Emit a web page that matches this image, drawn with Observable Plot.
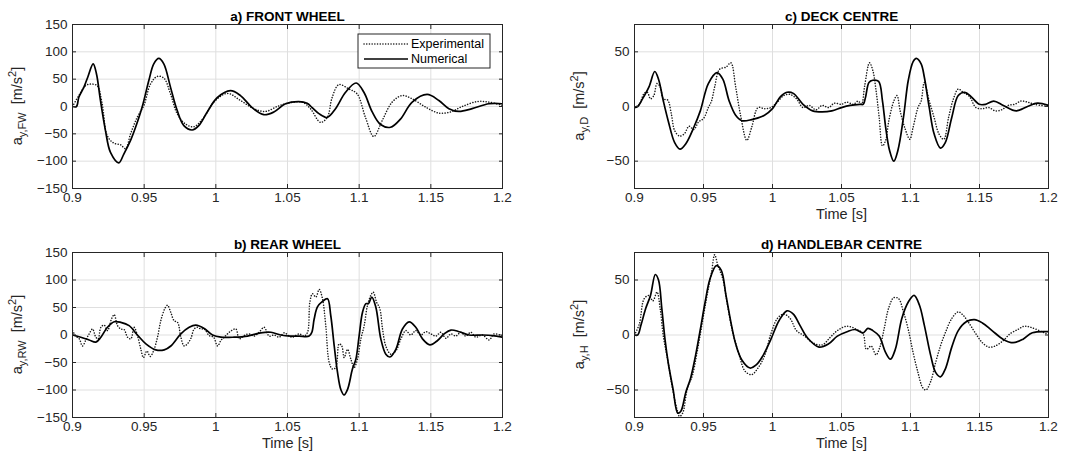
<!DOCTYPE html>
<html>
<head>
<meta charset="utf-8">
<script src="https://cdn.jsdelivr.net/npm/d3@7"></script>
<script src="https://cdn.jsdelivr.net/npm/@observablehq/plot@0.6"></script>
<style>
  body { margin: 0; background: #fff; }
  #chart { position: relative; width: 1083px; height: 460px; font-family: "Liberation Sans", Arial, sans-serif; }
  #chart svg { position: absolute; overflow: visible; }
</style>
</head>
<body>
<div id="chart"></div>
<script>
// Axis ticks
const timeTicks = [0.9, 0.95, 1, 1.05, 1.1, 1.15, 1.2];
const wheelTicks = [-150, -100, -50, 0, 50, 100, 150];
const bodyTicks = [-50, 0, 50];
const seriesNames = ["Experimental", "Numerical"];

// Lateral acceleration [m/s^2] vs time [s]: a) front wheel
const frontExp = [[0.9,0],[0.9044,20],[0.9091,38],[0.9126,41],[0.9172,38],[0.9207,5],[0.9242,-53],[0.9288,-67],[0.9335,-70],[0.937,-77],[0.9405,-50],[0.9451,-20],[0.9498,2],[0.9544,41],[0.9591,55],[0.9637,52],[0.9684,23],[0.973,-13],[0.9788,-32],[0.9847,-37],[0.9916,-20],[0.9986,8],[1.0079,24],[1.0172,11],[1.0265,-4],[1.0347,-9],[1.0428,0],[1.0486,5],[1.0602,8],[1.066,-4],[1.073,-29],[1.0777,-20],[1.0812,17],[1.0858,40],[1.0928,32],[1.0986,23],[1.1044,-20],[1.1102,-55],[1.116,-26],[1.123,8],[1.13,20],[1.137,14],[1.1463,-1],[1.1556,-12],[1.1637,-10],[1.1719,0],[1.1823,9],[1.1905,8],[1.2,2]];
const frontNum = [[0.9,0],[0.9028,0],[0.9044,17],[0.9079,35],[0.9107,54],[0.9144,78],[0.9167,60],[0.9195,11],[0.923,-44],[0.9265,-84],[0.9323,-103],[0.9358,-87],[0.9405,-62],[0.944,-38],[0.9486,-1],[0.9533,48],[0.9567,78],[0.9602,88],[0.9637,78],[0.9684,35],[0.973,-7],[0.9777,-35],[0.9835,-43],[0.9881,-35],[0.994,-10],[1.0009,16],[1.0102,29],[1.0172,20],[1.0253,-2],[1.0335,-15],[1.0405,-10],[1.0486,5],[1.0579,9],[1.0637,6],[1.0672,-2],[1.0719,-13],[1.0777,-20],[1.0835,-4],[1.0905,26],[1.0979,43],[1.1033,26],[1.1091,-10],[1.1149,-33],[1.1219,-38],[1.1288,-23],[1.137,8],[1.1474,22],[1.1556,11],[1.1626,-4],[1.1695,-9],[1.1788,-4],[1.1905,5],[1.2,5]];

// b) rear wheel
const rearExp = [[0.9,8],[0.9023,-2],[0.9047,-7],[0.907,-20],[0.9093,-9],[0.9116,2],[0.914,11],[0.9163,-4],[0.9179,-7],[0.9198,14],[0.9221,18],[0.9244,8],[0.9272,29],[0.9291,37],[0.9314,17],[0.9337,11],[0.936,10],[0.9384,-4],[0.9407,-7],[0.943,14],[0.9453,-1],[0.9477,-26],[0.9495,-41],[0.9519,-29],[0.9542,-39],[0.9565,-29],[0.9593,-4],[0.9616,26],[0.9644,48],[0.9663,54],[0.9686,41],[0.9709,26],[0.9733,23],[0.9756,-4],[0.9779,-20],[0.9802,-16],[0.9826,-6],[0.9849,11],[0.9872,14],[0.9895,11],[0.9919,11],[0.9953,-1],[0.9984,-4],[1.0012,-20],[1.0035,-10],[1.0058,-4],[1.0081,2],[1.0109,8],[1.014,11],[1.0163,-7],[1.0198,-1],[1.0233,2],[1.0267,-2],[1.0302,5],[1.0337,14],[1.0372,-2],[1.0407,0],[1.0442,-4],[1.0477,4],[1.0512,-2],[1.0535,-4],[1.0581,2],[1.0616,-2],[1.064,5],[1.0656,60],[1.0674,75],[1.0698,69],[1.0721,83],[1.0744,66],[1.0767,17],[1.0791,-50],[1.0814,-62],[1.0837,-59],[1.086,-16],[1.0879,-20],[1.0895,-41],[1.0919,-26],[1.0942,-44],[1.0965,-59],[1.0988,-44],[1.1012,-7],[1.1035,17],[1.1058,54],[1.1081,72],[1.1098,78],[1.1121,60],[1.1144,48],[1.1163,11],[1.1186,-20],[1.1221,-35],[1.1256,-29],[1.1291,-7],[1.1326,8],[1.136,0],[1.1395,8],[1.143,0],[1.1465,6],[1.15,2],[1.1535,-2],[1.157,5],[1.1605,-6],[1.164,2],[1.1674,-2],[1.1709,5],[1.1744,-2],[1.1779,5],[1.1814,-4],[1.186,0],[1.1907,-9],[1.1942,2],[1.2,-2]];
const rearNum = [[0.9,0],[0.9058,-4],[0.9116,-9],[0.9163,-13],[0.9198,-4],[0.9244,14],[0.9291,24],[0.9337,23],[0.9395,17],[0.9453,0],[0.9512,-16],[0.9581,-27],[0.964,-27],[0.9686,-20],[0.9756,2],[0.9814,14],[0.986,18],[0.9919,12],[0.9977,0],[1.0035,-4],[1.0128,-4],[1.0221,-2],[1.0314,4],[1.0384,5],[1.0453,0],[1.0523,-2],[1.0581,-2],[1.0651,-2],[1.067,5],[1.0686,29],[1.0709,51],[1.0744,61],[1.0779,66],[1.0802,35],[1.0826,-20],[1.0849,-68],[1.0872,-99],[1.0895,-109],[1.0919,-99],[1.0953,-62],[1.0977,-44],[1.1,-1],[1.1023,41],[1.1047,57],[1.1065,57],[1.1088,69],[1.1116,51],[1.1151,-7],[1.1186,-35],[1.1214,-40],[1.1256,-26],[1.1302,11],[1.1349,24],[1.1395,14],[1.1442,-7],[1.1493,-18],[1.1547,-10],[1.1593,2],[1.164,9],[1.1698,6],[1.1767,0],[1.186,0],[1.193,-1],[1.2,-4]];

// c) deck centre
const deckExp = [[0.9,-1],[0.9035,2],[0.907,12],[0.9093,13],[0.9116,7],[0.914,10],[0.9163,21],[0.9186,18],[0.9209,7],[0.924,6],[0.9267,-7],[0.9291,-22],[0.9326,-27],[0.9361,-25],[0.9395,-18],[0.943,-21],[0.9465,-14],[0.95,-11],[0.9535,-1],[0.9558,5],[0.9581,18],[0.9616,34],[0.9663,36],[0.9698,40],[0.9733,18],[0.9767,-7],[0.9814,-31],[0.9849,-19],[0.9895,-1],[0.9942,-2],[0.9988,-1],[1.0035,4],[1.0081,10],[1.0128,11],[1.0174,7],[1.0221,-1],[1.0267,1],[1.0314,-3],[1.036,1],[1.0407,-1],[1.0447,3],[1.05,2],[1.054,4],[1.0586,2],[1.0621,5],[1.0645,2],[1.0668,19],[1.0703,40],[1.0727,33],[1.075,15],[1.0773,-10],[1.0797,-36],[1.082,-31],[1.0843,-13],[1.0879,5],[1.0902,10],[1.0925,-4],[1.096,-20],[1.0995,-30],[1.1019,-19],[1.1054,-1],[1.1077,5],[1.11,22],[1.1136,5],[1.1171,-10],[1.1206,-25],[1.1241,-30],[1.1276,-10],[1.1311,7],[1.1346,16],[1.1381,13],[1.1428,9],[1.1474,-1],[1.1521,-2],[1.1568,-1],[1.1614,-4],[1.1661,-3],[1.1708,1],[1.1755,2],[1.1801,5],[1.1848,4],[1.19,2],[1.2,0]];
const deckNum = [[0.9,-1],[0.9023,0],[0.9058,7],[0.9105,18],[0.9147,32],[0.9174,25],[0.9209,5],[0.9244,-13],[0.9291,-33],[0.933,-39],[0.9372,-34],[0.943,-19],[0.9477,-4],[0.9535,21],[0.9598,31],[0.964,25],[0.9686,5],[0.9733,-8],[0.9779,-13],[0.9849,-12],[0.9942,-8],[1.0,-2],[1.0058,9],[1.0105,13],[1.0151,12],[1.0221,2],[1.0291,-4],[1.036,-5],[1.043,-4],[1.05,-1],[1.0563,1],[1.0633,2],[1.0657,2],[1.0675,9],[1.0699,22],[1.0727,24],[1.0769,23],[1.0797,5],[1.082,-19],[1.0848,-40],[1.0879,-50],[1.0909,-40],[1.0949,-10],[1.0984,24],[1.1019,41],[1.1042,44],[1.1077,39],[1.11,27],[1.1136,-1],[1.1171,-25],[1.1217,-38],[1.1252,-33],[1.1299,-10],[1.1346,10],[1.1393,13],[1.1439,9],[1.1498,2],[1.1544,2],[1.1603,5],[1.1673,1],[1.1766,-4],[1.1848,0],[1.192,3],[1.2,1]];

// d) handlebar centre
const handleExp = [[0.9,0],[0.9035,10],[0.907,33],[0.9105,36],[0.9133,31],[0.9163,39],[0.9186,24],[0.9209,-1],[0.9244,-25],[0.9279,-51],[0.9309,-68],[0.9326,-74],[0.9349,-71],[0.9384,-48],[0.9419,-37],[0.9453,-16],[0.9488,9],[0.9523,34],[0.9558,57],[0.9581,73],[0.9605,63],[0.964,51],[0.9674,27],[0.9709,4],[0.9756,-17],[0.9802,-33],[0.9849,-36],[0.9895,-30],[0.9942,-19],[0.9988,1],[1.0035,15],[1.0081,19],[1.0128,15],[1.0174,4],[1.0233,-1],[1.0291,-7],[1.036,-9],[1.0419,-2],[1.047,4],[1.054,8],[1.061,5],[1.0657,1],[1.068,-13],[1.0715,-10],[1.075,-18],[1.0778,-11],[1.0808,5],[1.0843,25],[1.0879,34],[1.0914,33],[1.0949,21],[1.0984,5],[1.1019,-16],[1.1054,-34],[1.1089,-48],[1.1112,-50],[1.1147,-42],[1.1182,-25],[1.1217,-10],[1.1252,2],[1.1299,15],[1.1346,21],[1.1381,18],[1.1428,10],[1.1474,1],[1.1521,-7],[1.1568,-11],[1.1614,-10],[1.1673,-5],[1.172,1],[1.1778,5],[1.1825,8],[1.1871,7],[1.195,3],[1.2,0]];
const handleNum = [[0.9,0],[0.9023,0],[0.9047,9],[0.9081,24],[0.9116,36],[0.9151,55],[0.9174,50],[0.9198,24],[0.9221,-4],[0.9244,-25],[0.9279,-49],[0.9314,-71],[0.9337,-69],[0.9372,-52],[0.9407,-39],[0.9442,-19],[0.9477,5],[0.9512,30],[0.9547,51],[0.9593,63],[0.9628,59],[0.9663,36],[0.9698,12],[0.9733,-8],[0.9779,-23],[0.9837,-30],[0.9884,-27],[0.993,-19],[0.9988,-4],[1.0047,13],[1.0105,22],[1.0151,19],[1.0198,9],[1.0256,-3],[1.0337,-11],[1.0407,-8],[1.047,-1],[1.054,3],[1.0598,5],[1.0657,2],[1.0691,6],[1.0727,4],[1.0773,-1],[1.082,-16],[1.0855,-22],[1.089,-13],[1.0937,15],[1.0984,30],[1.1026,36],[1.1065,27],[1.11,9],[1.1147,-19],[1.1182,-34],[1.1217,-38],[1.1252,-31],[1.1299,-11],[1.1346,4],[1.1404,12],[1.1463,14],[1.1521,11],[1.1591,4],[1.1673,-4],[1.1743,-7],[1.1813,-4],[1.1883,2],[1.2,3]];

const FONT = '"Liberation Sans", Arial, Helvetica, sans-serif';
const AXIS = "#262626";
const GRID = "#dfdfdf";
const INK = "#000";
// Dotted experimental trace: round caps on near-zero dashes give separate dots
const expStyle = {stroke: "#1a1a1a", strokeWidth: 1.5, strokeDasharray: "0.1,2.6", strokeLinecap: "round"};
const numStyle = {stroke: INK, strokeWidth: 1.7};

const chart = document.getElementById("chart");

function drawPanel({left, top, width, height, margin, title, sub, yDomain, yTicks, exp, num, timeLabel, legend}) {
  const [mt, mr, mb, ml] = margin;
  const marks = [
    Plot.gridX(timeTicks, {stroke: GRID, strokeOpacity: 1, strokeWidth: 1}),
    Plot.gridY(yTicks, {stroke: GRID, strokeOpacity: 1, strokeWidth: 1}),
    Plot.line(exp, {x: d => d[0], y: d => d[1], curve: "catmull-rom", clip: true, ...expStyle}),
    Plot.line(num, {x: d => d[0], y: d => d[1], curve: "catmull-rom", clip: true, ...numStyle}),
    Plot.frame({stroke: AXIS, strokeWidth: 1}),
    Plot.axisX(timeTicks, {anchor: "bottom", tickSize: -4, tickPadding: 8, stroke: AXIS, fill: AXIS, label: null, tickFormat: d => String(d)}),
    Plot.axisX(timeTicks, {anchor: "top", tickSize: -4, stroke: AXIS, label: null, tickFormat: () => ""}),
    Plot.axisY(yTicks, {anchor: "left", tickSize: -4, tickPadding: 9, stroke: AXIS, fill: AXIS, label: null}),
    Plot.axisY(yTicks, {anchor: "right", tickSize: -4, stroke: AXIS, label: null, tickFormat: () => ""}),
    Plot.text([title], {frameAnchor: "top", dy: -13, fontWeight: "bold", fontSize: 13.5, fill: INK})
  ];
  if (timeLabel) {
    marks.push(Plot.text(["Time [s]"], {frameAnchor: "bottom", dy: 30, fontSize: 14.5, fill: AXIS}));
  }
  const svg = Plot.plot({
    width, height,
    marginTop: mt, marginRight: mr, marginBottom: mb, marginLeft: ml,
    style: {fontFamily: FONT, fontSize: "13.5px", color: AXIS, background: "transparent", overflow: "visible"},
    x: {domain: [0.9, 1.2]},
    y: {domain: yDomain},
    marks
  });
  svg.style.left = left + "px";
  svg.style.top = top + "px";
  chart.appendChild(svg);

  const s = d3.select(svg);
  // Y label: a_{y,sub} [m/s^2]
  const cy = mt + (height - mt - mb) / 2;
  const lab = s.append("text")
    .attr("transform", `translate(${ml - 50},${cy}) rotate(-90)`)
    .attr("text-anchor", "middle")
    .attr("fill", AXIS)
    .style("font-family", FONT)
    .style("font-size", "14.5px");
  lab.append("tspan").text("a");
  lab.append("tspan").attr("dy", 4).style("font-size", "11px").text("y," + sub);
  lab.append("tspan").attr("dy", -4).text("\u00a0 [m/s");
  lab.append("tspan").attr("dy", -6).style("font-size", "11px").text("2");
  lab.append("tspan").attr("dy", 6).text("]");

  if (legend) {
    const g = s.append("g").style("font-family", FONT).style("font-size", "12.5px");
    const bx = 358, by = 34, bw = 132, bh = 34;
    g.append("rect").attr("x", bx).attr("y", by).attr("width", bw).attr("height", bh)
      .attr("fill", "#fff").attr("stroke", AXIS).attr("stroke-width", 1);
    const rows = [{name: seriesNames[0], style: expStyle}, {name: seriesNames[1], style: numStyle}];
    rows.forEach((r, i) => {
      const yy = by + 10 + i * 15;
      g.append("line").attr("x1", bx + 6).attr("x2", bx + 50).attr("y1", yy).attr("y2", yy)
        .attr("stroke", r.style.stroke).attr("stroke-width", r.style.strokeWidth)
        .attr("stroke-dasharray", r.style.strokeDasharray || null)
        .attr("stroke-linecap", r.style.strokeLinecap || null);
      g.append("text").attr("x", bx + 53).attr("y", yy).attr("dy", "0.35em")
        .attr("text-anchor", "start").attr("fill", INK).text(r.name);
    });
  }
}

drawPanel({left: 0, top: 0, width: 520, height: 220, margin: [24, 18, 32, 72],
  title: "a) FRONT WHEEL", sub: "FW", yDomain: [-150, 150], yTicks: wheelTicks,
  exp: frontExp, num: frontNum, timeLabel: false, legend: true});
drawPanel({left: 540, top: 0, width: 543, height: 220, margin: [24, 35, 32, 94],
  title: "c) DECK CENTRE", sub: "D", yDomain: [-75, 75], yTicks: bodyTicks,
  exp: deckExp, num: deckNum, timeLabel: true, legend: false});
drawPanel({left: 0, top: 220, width: 520, height: 240, margin: [32, 18, 43, 72],
  title: "b) REAR WHEEL", sub: "RW", yDomain: [-150, 150], yTicks: wheelTicks,
  exp: rearExp, num: rearNum, timeLabel: true, legend: false});
drawPanel({left: 540, top: 220, width: 543, height: 240, margin: [32, 35, 43, 94],
  title: "d) HANDLEBAR CENTRE", sub: "H", yDomain: [-75, 75], yTicks: bodyTicks,
  exp: handleExp, num: handleNum, timeLabel: true, legend: false});
</script>
</body>
</html>
